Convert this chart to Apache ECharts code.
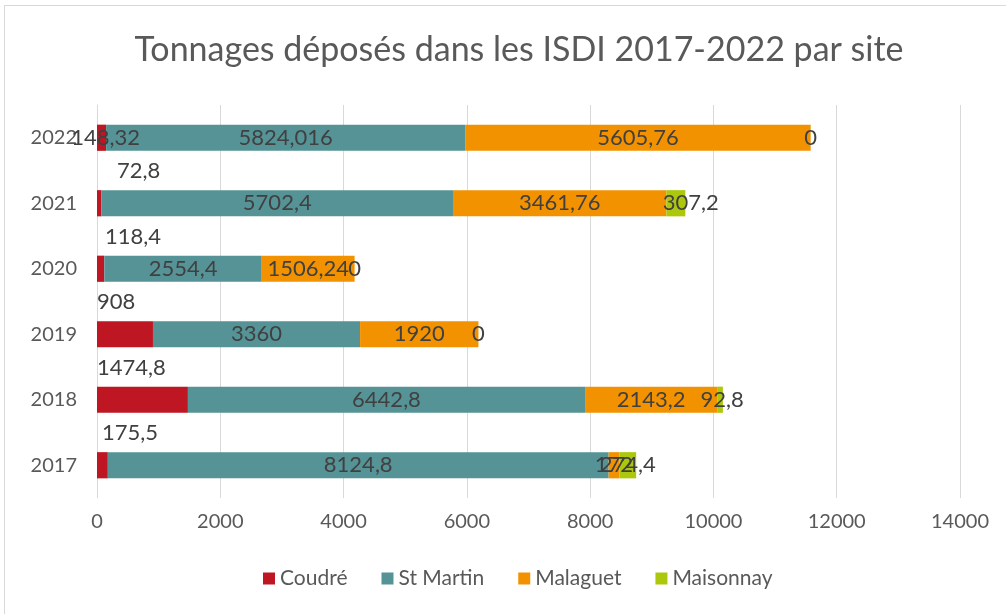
<!DOCTYPE html>
<html>
<head>
<meta charset="utf-8">
<script src="https://cdn.jsdelivr.net/npm/echarts@6/dist/echarts.min.js"></script>
<style>
    html, body { margin: 0; padding: 0; background: #fff; }
    #frame { position: absolute; left: 4px; top: 5px; width: 1010px; height: 620px; border: 1px solid #d9d9d9; box-sizing: border-box; }
    #chart { position: absolute; left: 0; top: 0; width: 1006px; height: 614px; }
</style>
</head>
<body>
<div id="frame"></div>
<div id="chart"></div>
<script>
// années (de bas en haut)
const years = ['2017', '2018', '2019', '2020', '2021', '2022']
const coudre = [175.5, 1474.8, 908, 118.4, 72.8, 148.32]
const stMartin = [8124.8, 6442.8, 3360, 2554.4, 5702.4, 5824.016]
const malaguet = [172, 2143.2, 1920, 1506.24, 3461.76, 5605.76]
const maisonnay = [274.4, 92.8, 0, 0, 307.2, 0]
const xTicks = [0, 2000, 4000, 6000, 8000, 10000, 12000, 14000]

// décalages manuels des étiquettes (comme dans le classeur d'origine)
const coudreLabelDx = [0, -5, -5, 3, 15, null]
const maisonnayLabelDx = [0, 2, 0, 0, 15, 0]

const fmt = (v) => String(v).replace('.', ',')
const textColor = '#404040'

const chart = echarts.init(document.getElementById('chart'))

const coudreData = coudre.map((v, i) => {
    const dx = coudreLabelDx[i]
    if (dx === null) return { value: v, label: { position: 'inside', offset: [4, 0] } }
    return { value: v, label: { position: 'insideLeft', offset: [dx, -32] } }
})
const maisonnayData = maisonnay.map((v, i) => ({ value: v, label: { offset: [maisonnayLabelDx[i], 0] } }))

const labelBase = { show: true, color: textColor, fontSize: 22, fontFamily: 'Lato', formatter: (p) => fmt(p.value) }

chart.setOption({
    animation: false,
    title: {
        text: 'Tonnages déposés dans les ISDI 2017-2022 par site',
        left: 514, top: 28, textAlign: 'center',
        textStyle: { color: '#595959', fontSize: 34, fontWeight: 'normal', fontFamily: 'Lato' },
    },
    legend: {
        bottom: 20, left: 258, itemWidth: 12, itemHeight: 12, itemGap: 34, icon: 'rect',
        textStyle: { color: '#595959', fontSize: 21, fontFamily: 'Lato' },
        data: ['Coudré', 'St Martin', 'Malaguet', 'Maisonnay'],
    },
    grid: { left: 97, right: 46, top: 105, bottom: 116, containLabel: false },
    xAxis: {
        type: 'value', min: 0, max: 14000, interval: 2000,
        axisLine: { show: false }, axisTick: { show: false },
        splitLine: { lineStyle: { color: '#d9d9d9', width: 1 } },
        axisLabel: { color: '#595959', fontSize: 20, fontFamily: 'Lato', margin: 14, formatter: (v) => xTicks.includes(v) ? String(v) : '' },
    },
    yAxis: {
        type: 'category', data: years,
        axisLine: { show: true, lineStyle: { color: '#d9d9d9' } }, axisTick: { show: false },
        axisLabel: { color: '#595959', fontSize: 20, fontFamily: 'Lato', margin: 20 },
    },
    series: [
        { name: 'Coudré', type: 'bar', stack: 't', barCategoryGap: '60%', data: coudreData, itemStyle: { color: '#be1622' }, label: labelBase },
        { name: 'St Martin', type: 'bar', stack: 't', data: stMartin, itemStyle: { color: '#559396' }, label: { ...labelBase, position: 'inside' } },
        { name: 'Malaguet', type: 'bar', stack: 't', data: malaguet, itemStyle: { color: '#f39200' }, label: { ...labelBase, position: 'inside' } },
        { name: 'Maisonnay', type: 'bar', stack: 't', data: maisonnayData, itemStyle: { color: '#acc70c' }, label: { ...labelBase, position: 'inside' } },
    ],
})
</script>
</body>
</html>
